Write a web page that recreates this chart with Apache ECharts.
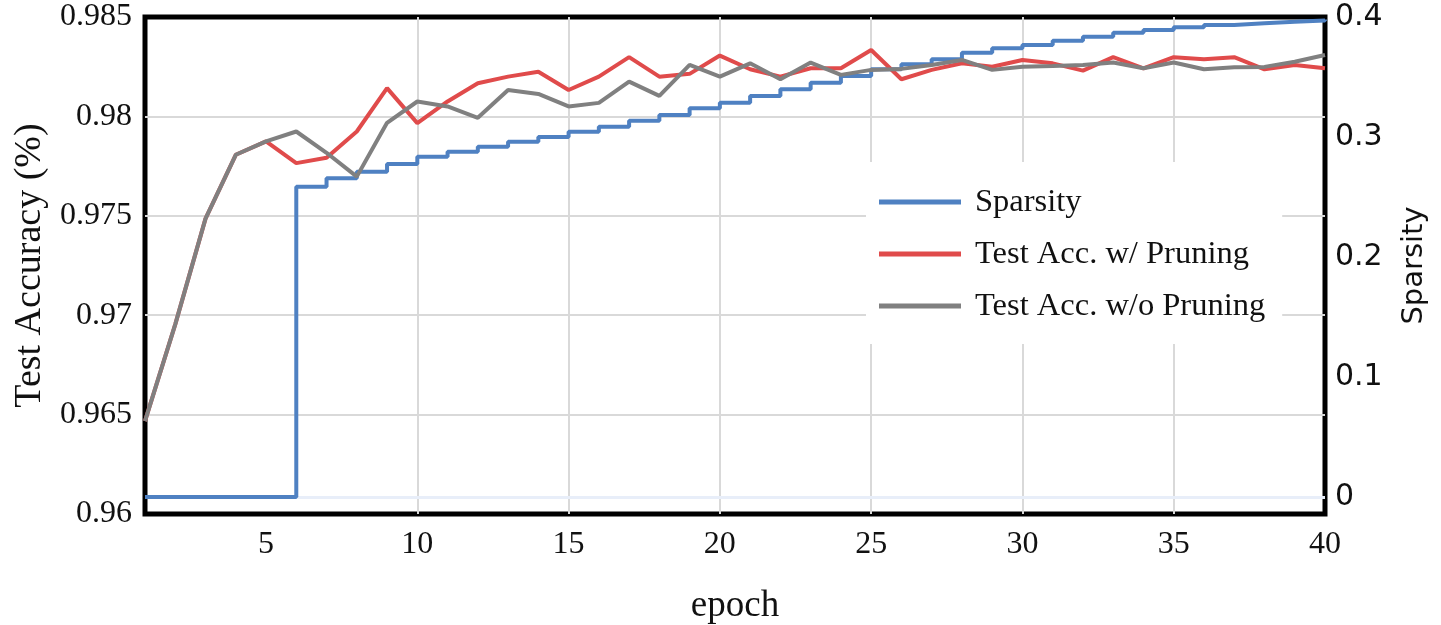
<!DOCTYPE html>
<html>
<head>
<meta charset="utf-8">
<script src="https://cdn.jsdelivr.net/npm/echarts@6/dist/echarts.min.js"></script>
<style>
  html, body { margin: 0; padding: 0; background: #ffffff; }
  #chart { width: 1441px; height: 625px; }
</style>
</head>
<body>
<div id="chart"></div>
<script>
// Training epochs on the x axis
const epochs = [1, 2, 3, 4, 5, 6, 7, 8, 9, 10,
                11, 12, 13, 14, 15, 16, 17, 18, 19, 20,
                21, 22, 23, 24, 25, 26, 27, 28, 29, 30,
                31, 32, 33, 34, 35, 36, 37, 38, 39, 40];

// Fraction of pruned weights after each epoch (right axis)
const sparsity = [0, 0, 0, 0, 0, 0.2586, 0.2656, 0.2711, 0.2775, 0.2836,
                  0.2878, 0.2919, 0.2961, 0.3000, 0.3044, 0.3086, 0.3136, 0.3183, 0.3239, 0.3286,
                  0.3342, 0.3397, 0.3453, 0.3508, 0.3564, 0.3606, 0.3647, 0.3703, 0.3739, 0.3767,
                  0.3803, 0.3836, 0.3869, 0.3892, 0.3914, 0.3933, 0.3947, 0.3961, 0.3970, 0.3980];

// Test accuracy with pruning enabled (left axis)
const accWithPruning = [0.96467, 0.96954, 0.97486, 0.97807, 0.97874, 0.97765, 0.97792, 0.97924, 0.98142, 0.97966,
                        0.98075, 0.98167, 0.98200, 0.98225, 0.98133, 0.98200, 0.98298, 0.98200, 0.98214, 0.98306,
                        0.98237, 0.98200, 0.98242, 0.98242, 0.98334, 0.98187, 0.98234, 0.98267, 0.98250, 0.98284,
                        0.98267, 0.98230, 0.98298, 0.98242, 0.98298, 0.98288, 0.98298, 0.98237, 0.98259, 0.98242];

// Test accuracy of the dense baseline (left axis)
const accWithoutPruning = [0.96467, 0.96954, 0.97486, 0.97807, 0.97874, 0.97924, 0.97817, 0.97697, 0.97968, 0.98075,
                           0.98050, 0.97993, 0.98133, 0.98113, 0.98050, 0.98068, 0.98175, 0.98103, 0.98259, 0.98200,
                           0.98267, 0.98187, 0.98271, 0.98209, 0.98234, 0.98239, 0.98259, 0.98284, 0.98234, 0.98250,
                           0.98254, 0.98259, 0.98271, 0.98242, 0.98271, 0.98237, 0.98247, 0.98249, 0.98275, 0.98309];

// Tick positions
const epochTicks = [5, 10, 15, 20, 25, 30, 35, 40];
const sparsityTicks = [0, 0.1, 0.2, 0.3, 0.4];

const seriesNames = ['Sparsity', 'Test Acc. w/ Pruning', 'Test Acc. w/o Pruning'];
const seriesColors = ['#4f81c2', '#e04b4b', '#808080'];

const serif = 'Liberation Serif, Times New Roman, serif';
const sans = 'DejaVu Sans, Liberation Sans, sans-serif';

const toPoints = ys => epochs.map((e, i) => [e, ys[i]]);

const gridLine = { show: true, showMinLine: false, showMaxLine: false, lineStyle: { color: '#d9d9d9', width: 2 } };

const chart = echarts.init(document.getElementById('chart'), null, { renderer: 'canvas' });

chart.setOption({
  animation: false,
  backgroundColor: '#ffffff',
  grid: {
    left: 145, top: 17, width: 1180, height: 497,
    show: true, borderColor: '#000000', borderWidth: 5, backgroundColor: 'transparent',
    containLabel: false, outerBoundsMode: 'none'
  },
  legend: {
    data: seriesNames,
    orient: 'vertical',
    left: 866, top: 162,
    backgroundColor: '#ffffff',
    padding: [22, 17, 20, 13],
    icon: 'rect',
    itemWidth: 82, itemHeight: 5,
    itemGap: 16,
    textStyle: { fontFamily: serif, fontSize: 32.5, lineHeight: 36, color: '#111111', padding: [0, 0, 0, 9] }
  },
  xAxis: {
    type: 'value', min: 1, max: 40,
    name: 'epoch', nameLocation: 'middle', nameGap: 74,
    nameTextStyle: { fontFamily: serif, fontSize: 37, color: '#111111' },
    axisLine: { show: false },
    axisTick: { show: false, customValues: epochTicks },
    axisLabel: { customValues: epochTicks, fontFamily: serif, fontSize: 32, color: '#111111', margin: 15 },
    splitLine: gridLine
  },
  yAxis: [
    {
      type: 'value', min: 0.96, max: 0.985, interval: 0.005, position: 'left',
      name: 'Test Accuracy (%)', nameLocation: 'middle', nameGap: 96, nameRotate: 90,
      nameTextStyle: { fontFamily: serif, fontSize: 38, color: '#111111' },
      axisLine: { show: false }, axisTick: { show: false },
      axisLabel: {
        fontFamily: serif, fontSize: 32, color: '#111111', margin: 13, padding: [2, 0, 0, 0],
        formatter: v => v.toFixed(3).replace(/0+$/, '')
      },
      splitLine: gridLine
    },
    {
      type: 'value', min: -0.0142, max: 0.4, position: 'right',
      name: 'Sparsity', nameLocation: 'middle', nameGap: 75, nameRotate: 90,
      nameTextStyle: { fontFamily: sans, fontSize: 29, color: '#111111' },
      axisLine: { show: false },
      axisTick: { show: false, customValues: sparsityTicks },
      axisLabel: {
        customValues: sparsityTicks,
        fontFamily: sans, fontSize: 30, color: '#111111', margin: 10, padding: [2, 0, 0, 0],
        formatter: v => (v === 0 ? '0' : v.toFixed(1))
      },
      splitLine: { show: false }
    }
  ],
  series: [
    {
      name: seriesNames[0], type: 'line', yAxisIndex: 1, step: 'end',
      data: toPoints(sparsity), showSymbol: false, z: 2,
      lineStyle: { color: seriesColors[0], width: 4 },
      itemStyle: { color: seriesColors[0] },
      markLine: {
        silent: true, z: 1, symbol: ['none', 'none'], label: { show: false },
        lineStyle: { color: '#e8eef9', width: 3, type: 'solid' },
        data: [{ yAxis: 0 }]
      }
    },
    {
      name: seriesNames[1], type: 'line', yAxisIndex: 0,
      data: toPoints(accWithPruning), showSymbol: false, z: 3,
      lineStyle: { color: seriesColors[1], width: 4 },
      itemStyle: { color: seriesColors[1] }
    },
    {
      name: seriesNames[2], type: 'line', yAxisIndex: 0,
      data: toPoints(accWithoutPruning), showSymbol: false, z: 4,
      lineStyle: { color: seriesColors[2], width: 4 },
      itemStyle: { color: seriesColors[2] }
    }
  ]
});
</script>
</body>
</html>
